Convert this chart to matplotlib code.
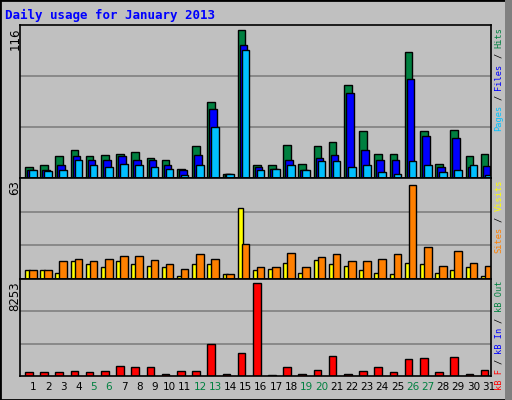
import matplotlib
matplotlib.use("Agg")
import matplotlib.pyplot as plt
import numpy as np
from matplotlib.patches import Rectangle

days = list(range(1, 32))
day_labels = [str(d) for d in days]
weekends = [5, 6, 12, 13, 19, 20, 26, 27]
hits = [9, 10, 17, 22, 17, 18, 18.5, 20, 16, 14, 7.4, 25, 59.5, 3.4, 116.4, 10, 10.5, 25.5, 11.3, 25, 28, 73, 36.5, 18.5, 18.5, 99, 36.5, 11.3, 37.3, 17.6, 18.5]
files = [6, 6.6, 10, 17, 14, 14.5, 17, 14, 14, 10.5, 6, 17.7, 54, 3.4, 104, 9, 7.4, 14.5, 6.6, 16, 17.7, 66.5, 21.6, 14.5, 14.5, 78, 32.6, 9, 31, 9, 9.7]
pages = [6, 5.8, 6, 14, 10, 9, 11.3, 10, 9, 7.4, 2.6, 10, 40, 3.4, 100.7, 6, 7.4, 10.5, 6.6, 13, 13, 9, 10, 5, 3.4, 13.7, 10.5, 5, 6.6, 10.5, 2.6]
visits = [5.7, 5.7, 4.3, 11.8, 9.8, 7.7, 11.8, 9.8, 8.4, 7.7, 2.3, 9.8, 9.8, 3.6, 47.3, 5.7, 6.4, 10.5, 4.3, 12.5, 9.8, 8.4, 5.7, 4.3, 3.6, 10.5, 9.8, 4.3, 5.7, 7.7, 2.3]
sites = [5.7, 5.7, 11.8, 13.2, 11.8, 13.2, 15.2, 15.2, 12.5, 9.8, 6.4, 16.6, 13.2, 3.6, 23.4, 7.7, 7.7, 17.3, 7.7, 14.6, 16.6, 11.8, 11.8, 13.2, 16.6, 63, 21.4, 8.4, 18.7, 10.5, 8.4]
kbytes = [392, 392, 392, 482, 392, 482, 843, 753, 753, 211, 482, 482, 2831, 211, 2018, 8253, 120, 753, 211, 572, 1747, 211, 482, 753, 392, 1476, 1566, 392, 1657, 211, 572]

BG = "#C0C0C0"
W, H = 512, 400
fig = plt.figure(figsize=(5.12, 4.0), dpi=100, facecolor=BG)

def ax_at(x0, y0, x1, y1):
    return fig.add_axes([x0 / W, 1 - y1 / H, (x1 - x0) / W, (y1 - y0) / H], facecolor=BG)

x = np.array(days, dtype=float)
axes = []
specs = [(25, 178, 116 * 152 / 147), (178, 279, 63 * 297 / 277), (279, 376, 8253 * 285 / 274)]
for (y0, y1, top) in specs:
    a = ax_at(20, y0, 491, y1)
    a.set_xlim(0.5, 31.5)
    a.set_ylim(0, top)
    for g in (top / 3, 2 * top / 3):
        a.axhline(g, color="#808080", lw=1.2, zorder=0)
    a.set_yticks([])
    a.set_xticks([])
    for s in a.spines.values():
        s.set_color("black"); s.set_linewidth(1.2)
    axes.append(a)

kw = dict(align="edge", edgecolor="black", linewidth=1)
a1, a2, a3 = axes
a1.bar(x - 0.17, hits, 0.5, color="#008040", **kw)
a1.bar(x - 0.04, files, 0.5, color="#0000FF", **kw)
a1.bar(x + 0.09, pages, 0.5, color="#00C0FF", **kw)
a2.bar(x - 0.17, visits, 0.33, color="#FFFF00", **kw)
a2.bar(x + 0.09, sites, 0.5, color="#FF8000", **kw)
a3.bar(x - 0.17, kbytes, 0.5, color="#FF0000", **kw)

a3.set_xticks(x + 0.35)
a3.set_xticklabels(day_labels, fontsize=7.5, family="DejaVu Sans")
a3.tick_params(axis="x", length=0, pad=4)
for lbl, d in zip(a3.get_xticklabels(), days):
    lbl.set_color("#008040" if d in weekends else "black")

fig.text(5 / W, 1 - 15 / H, "Daily usage for January 2013", color="#0000FF",
         fontsize=9, family="DejaVu Sans Mono", fontweight="bold", va="center")

for txt, ytop in (("116", 27), ("63", 180), ("8253", 281)):
    fig.text(15 / W, 1 - ytop / H, txt, rotation=90, ha="center", va="top", fontsize=8.5)

fs = 6.2
adv = 0.602 * fs * 100 / 72
def vlabel(segs, ytop, xc=499):
    y = ytop
    for txt, col in reversed(segs):
        n = len(txt)
        s = txt.strip()
        lead = len(txt) - len(txt.rstrip())
        fig.text(xc / W, 1 - (y + lead * adv) / H, s, rotation=90, ha="center", va="top",
                 color=col, fontsize=fs, family="DejaVu Sans Mono")
        y += n * adv

vlabel([("Pages", "#00C0FF"), (" / ", "black"), ("Files", "#0000FF"), (" / ", "black"), ("Hits", "#008040")], 27)
vlabel([("Sites", "#FF8000"), (" / ", "black"), ("Visits", "#FFFF00")], 180)
vlabel([("kB F", "#FF0000"), (" / ", "black"), ("kB In", "#0000FF"), (" / ", "black"), ("kB Out", "#008040")], 281)

fig.patches.append(Rectangle((0, 0), 1, 1, transform=fig.transFigure, fill=False,
                             edgecolor="black", linewidth=2))
fig.patches.append(Rectangle((1 - 7 / W, 0), 7 / W, 1, transform=fig.transFigure,
                             facecolor="#808080", edgecolor="none"))

fig.savefig("out.png", dpi=100, facecolor=BG)
